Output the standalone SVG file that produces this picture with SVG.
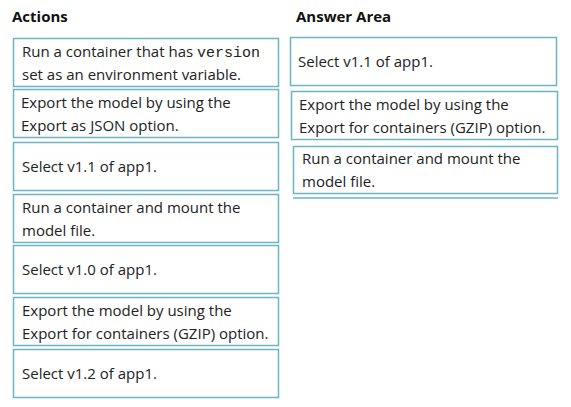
<svg xmlns="http://www.w3.org/2000/svg" width="571" height="407" viewBox="0 0 571 407">
<style>
.box{fill:#fff;stroke:#6bb4c4;stroke-width:1.5}
.t{font-family:"Open Sans","Noto Sans","Liberation Sans",sans-serif;font-size:15px;fill:#222}
.m{font-family:"Liberation Mono",monospace;font-size:15px}
.h{font-family:"Open Sans","Noto Sans","Liberation Sans",sans-serif;font-size:15px;font-weight:bold;fill:#111}
</style>
<rect width="571" height="407" fill="#fff"/>
<text class="h" x="12" y="22">Actions</text>
<text class="h" x="296" y="22">Answer Area</text>
<g id="a1"><rect class="box" x="13.5" y="38.5" width="265" height="48"/><text class="t" x="22" y="57">Run a container that has <tspan class="m">version</tspan></text><text class="t" x="22" y="80">set as an environment variable.</text></g>
<g id="a2"><rect class="box" x="13.5" y="89.5" width="265" height="48"/><text class="t" x="21" y="108">Export the model by using the</text><text class="t" x="21" y="131">Export as JSON option.</text></g>
<g id="a3"><rect class="box" x="13.5" y="142.5" width="265" height="48"/><text class="t" x="22" y="172">Select v1.1 of app1.</text></g>
<g id="a4"><rect class="box" x="13.5" y="194.5" width="265" height="48"/><text class="t" x="22" y="213">Run a container and mount the</text><text class="t" x="22" y="236">model file.</text></g>
<g id="a5"><rect class="box" x="13.5" y="245.5" width="265" height="48"/><text class="t" x="22" y="275">Select v1.0 of app1.</text></g>
<g id="a6"><rect class="box" x="13.5" y="297.5" width="265" height="48"/><text class="t" x="22" y="316">Export the model by using the</text><text class="t" x="22" y="339">Export for containers (GZIP) option.</text></g>
<g id="a7"><rect class="box" x="13.5" y="349.5" width="265" height="48"/><text class="t" x="22" y="379">Select v1.2 of app1.</text></g>
<g id="b1"><rect class="box" x="290.5" y="37.5" width="266" height="48"/><text class="t" x="298" y="67">Select v1.1 of app1.</text></g>
<g id="b2"><rect class="box" x="291.5" y="91.5" width="266" height="48"/><text class="t" x="299" y="110">Export the model by using the</text><text class="t" x="299" y="133">Export for containers (GZIP) option.</text></g>
<g id="b3"><rect class="box" x="293.5" y="146.5" width="264" height="47"/><text class="t" x="302" y="164">Run a container and mount the</text><text class="t" x="302" y="187">model file.</text></g>
<g id="connectors"><line x1="293" y1="198" x2="558" y2="198" stroke="#6bb4c4" stroke-width="1.5"/></g>
</svg>
